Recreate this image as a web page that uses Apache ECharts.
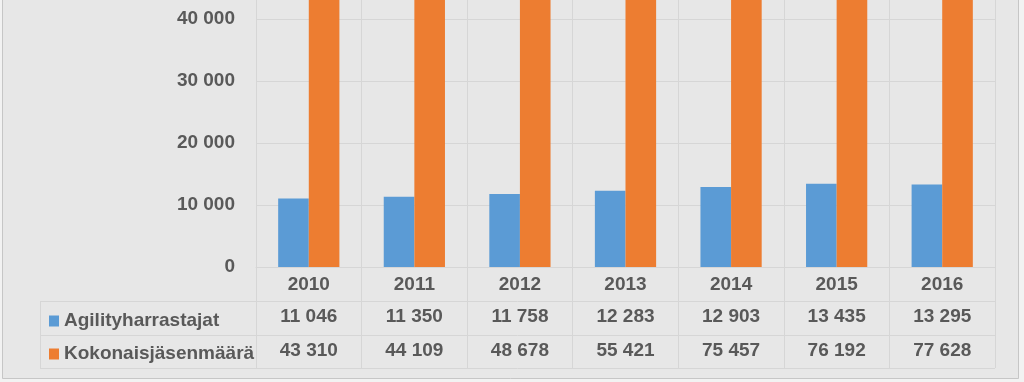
<!DOCTYPE html>
<html>
<head>
<meta charset="utf-8">
<script src="https://cdn.jsdelivr.net/npm/echarts@6/dist/echarts.min.js"></script>
<style>html,body{margin:0;padding:0;background:#f2f2f2;}#c{width:1024px;height:382px;}</style>
</head>
<body>
<div id="c"></div>
<script>
const years = ['2010', '2011', '2012', '2013', '2014', '2015', '2016'];
const agility = [11046, 11350, 11758, 12283, 12903, 13435, 13295];
const total = [43310, 44109, 48678, 55421, 75457, 76192, 77628];
const seriesNames = ['Agilityharrastajat', 'Kokonaisjäsenmäärä'];
const colors = ['#5b9bd5', '#ed7d31'];

function fmt(n) { return String(n).replace(/\B(?=(\d{3})+(?!\d))/g, ' '); }

const FONT = 'Liberation Sans';
const TXT = '#595959';
const GRID = '#d6d6d6';
const labelStyle = { fontFamily: FONT, fontSize: 19, fontWeight: 'bold', color: TXT, lineHeight: 20, margin: 8, interval: 0 };

const chart = echarts.init(document.getElementById('c'), null, { renderer: 'canvas' });
chart.setOption({
  backgroundColor: '#e7e7e7',
  animation: false,
  grid: { left: 256, right: 29, top: 0, bottom: 115, containLabel: false },
  legend: {
    data: seriesNames, orient: 'vertical', left: 44, top: 306,
    itemWidth: 10, itemHeight: 11, itemGap: 13, icon: 'rect', selectedMode: false,
    textStyle: { fontFamily: FONT, fontSize: 19, fontWeight: 'bold', color: TXT, lineHeight: 20 }
  },
  xAxis: [
    {
      type: 'category', data: years, position: 'bottom',
      axisLine: { show: true, lineStyle: { color: GRID, width: 1 } },
      axisTick: { show: true, length: 101, lineStyle: { color: GRID } },
      splitLine: { show: true, lineStyle: { color: GRID } },
      axisLabel: labelStyle
    },
    {
      type: 'category', data: agility.map(fmt), position: 'bottom', offset: 32,
      axisLine: { show: false }, axisTick: { show: false }, splitLine: { show: false },
      axisLabel: labelStyle
    },
    {
      type: 'category', data: total.map(fmt), position: 'bottom', offset: 66,
      axisLine: { show: false }, axisTick: { show: false }, splitLine: { show: false },
      axisLabel: labelStyle
    }
  ],
  yAxis: {
    type: 'value', min: 0, max: 43065, interval: 10000,
    axisLine: { show: false }, axisTick: { show: false },
    splitLine: { show: true, showMaxLine: false, lineStyle: { color: GRID } },
    axisLabel: { fontFamily: FONT, fontSize: 19, fontWeight: 'bold', color: TXT, margin: 21, showMaxLabel: false, formatter: v => fmt(v) }
  },
  series: [
    { name: seriesNames[0], type: 'bar', xAxisIndex: 0, data: agility, itemStyle: { color: colors[0] }, barGap: '0%', barCategoryGap: '42%' },
    { name: seriesNames[1], type: 'bar', xAxisIndex: 0, data: total, itemStyle: { color: colors[1] }, barGap: '0%', barCategoryGap: '42%' }
  ],
  graphic: [
    { type: 'line', shape: { x1: 40, y1: 301.5, x2: 995, y2: 301.5 }, style: { stroke: GRID, lineWidth: 1 } },
    { type: 'line', shape: { x1: 40, y1: 335.5, x2: 995, y2: 335.5 }, style: { stroke: GRID, lineWidth: 1 } },
    { type: 'line', shape: { x1: 40, y1: 368.5, x2: 995, y2: 368.5 }, style: { stroke: GRID, lineWidth: 1 } },
    { type: 'line', shape: { x1: 40.5, y1: 301.5, x2: 40.5, y2: 368.5 }, style: { stroke: GRID, lineWidth: 1 } },
    { type: 'rect', shape: { x: 1019, y: 0, width: 5, height: 382 }, style: { fill: '#f2f2f2' } },
    { type: 'rect', shape: { x: 0, y: 379, width: 1024, height: 3 }, style: { fill: '#f2f2f2' } },
    { type: 'rect', shape: { x: 0, y: 0, width: 2, height: 382 }, style: { fill: '#f2f2f2' } },
    { type: 'polyline', shape: { points: [[2.5, 0], [2.5, 378.5], [1018.5, 378.5], [1018.5, 0]] }, style: { stroke: '#c6c6c6', fill: null, lineWidth: 1 } }
  ]
});
</script>
</body>
</html>
